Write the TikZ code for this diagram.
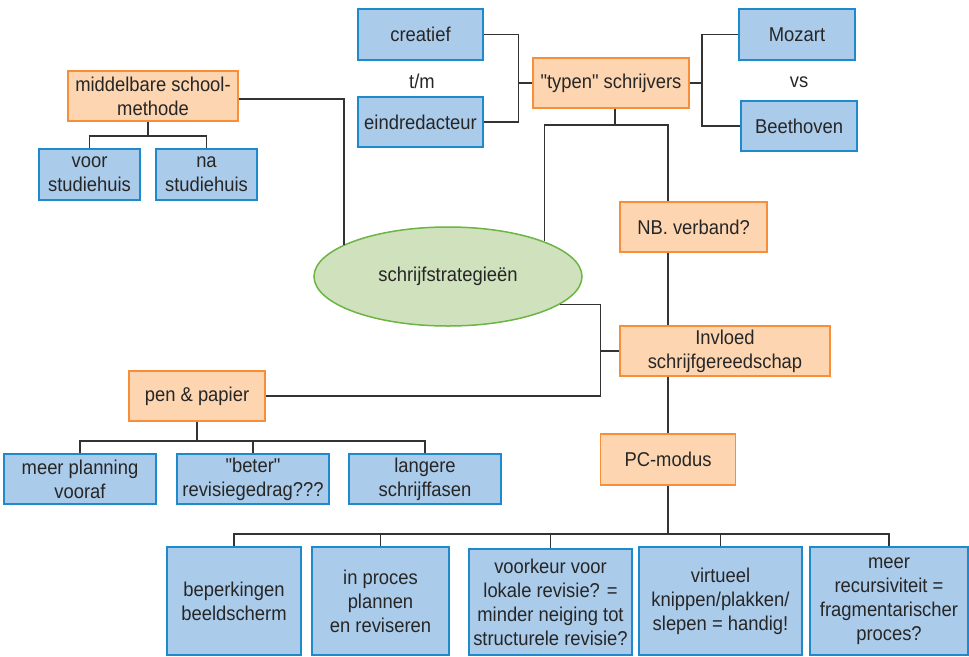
\documentclass[tikz,border=0pt]{standalone}
\usepackage{fontspec}
\setmainfont{Liberation Sans}[FakeStretch=0.92, Ligatures=TeXOff]
\usepackage{tikz}
\usetikzlibrary{shapes.geometric, positioning}

\definecolor{blauwvul}{HTML}{ABCBEA}
\definecolor{blauwrand}{HTML}{1F8ACB}
\definecolor{oranjevul}{HTML}{FDD5B1}
\definecolor{oranjerand}{HTML}{F78E3A}
\definecolor{groenvul}{HTML}{CFE2BD}
\definecolor{groenrand}{HTML}{6CB443}
\definecolor{tekst}{HTML}{262626}
\definecolor{lijn}{HTML}{333333}

\begin{document}
\begin{tikzpicture}[x=1pt, y=-1pt,
        every node/.style={font=\fontsize{20}{24}\selectfont, text=tekst, align=center, inner sep=0pt},
        blok/.style={draw=blauwrand, fill=blauwvul, line width=1.5pt, minimum height=50pt},
        oranje/.style={draw=oranjerand, fill=oranjevul, line width=1.5pt, minimum height=50pt},
        tak/.style={draw=lijn, line width=1.5pt}]
        \useasboundingbox (0,0) rectangle (969,656);

        % Centre
        \node[ellipse, draw=groenrand, fill=groenvul, line width=1.5pt, minimum width=268pt, minimum height=99pt] (sv) at (448,276.5) {schrijfstrategieën};

        % Middelbare school
        \node[oranje, minimum width=170pt] (mbs) at (153,96) {middelbare school-\\methode};
        \node[blok, minimum width=101pt, minimum height=51pt] (voor) at (89.5,174.5) {voor\\studiehuis};
        \node[blok, minimum width=101pt, minimum height=51pt] (na) at (206.5,174.5) {na\\studiehuis};

        % Typen schrijvers
        \node[oranje, minimum width=156pt] (typen) at (611,83) {"typen" schrijvers};
        \node[blok, minimum width=125pt, minimum height=51pt] (creatief) at (420.5,34.5) {creatief};
        \node (tm) at (422,81) {t/m};
        \node[blok, minimum width=125pt] (eind) at (420.5,122) {eindredacteur};
        \node[blok, minimum width=116pt, minimum height=51pt] (mozart) at (797,34.5) {Mozart};
        \node (vs) at (799,82) {vs};
        \node[blok, minimum width=116pt] (beethoven) at (799,126) {Beethoven};

        % Spine on the right
        \node[oranje, minimum width=147pt] (nb) at (693.5,227) {NB. verband?};
        \node[oranje, minimum width=210pt] (invloed) at (725,351) {Invloed\\schrijfgereedschap};
        \node[oranje, minimum width=135pt, minimum height=51pt] (pc) at (668,459.5) {PC-modus};

        % Pen en papier
        \node[oranje, minimum width=136pt] (pen) at (197,396) {pen \& papier};
        \node[blok, minimum width=152pt] (planning) at (80,479) {meer planning\\vooraf};
        \node[blok, minimum width=152pt] (beter) at (253,479) {"beter"\\revisiegedrag???};
        \node[blok, minimum width=152pt] (langere) at (425,479) {langere\\schrijffasen};

        % PC-modus boxes
        \node[blok, minimum width=134pt, minimum height=108pt] (scherm) at (234,601) {beperkingen\\beeldscherm};
        \node[blok, minimum width=137pt, minimum height=108pt] (proces) at (380.5,601) {in proces\\plannen\\en reviseren};
        \node[blok, minimum width=163pt, minimum height=106pt] (lokaal) at (550.5,602) {voorkeur voor\\lokale revisie? =\\minder neiging tot\\structurele revisie?};
        \node[blok, minimum width=163pt, minimum height=108pt] (knippen) at (720.5,601) {virtueel\\knippen/plakken/\\slepen = handig!};
        \node[blok, minimum width=158pt, minimum height=108pt] (recursief) at (889,601) {meer\\recursiviteit =\\fragmentarischer\\proces?};

        % Connectors
        \draw[tak] ([xshift=-5pt]mbs.south) -- ++(0,14) coordinate (mbssplit);
        \foreach \n in {voor, na}
            \draw[tak] (mbssplit) -| (\n.north);
        \draw[tak] ([yshift=-3pt]mbs.east) -| (sv.163);

        \draw[tak] (creatief.east) -| ([xshift=-14pt]typen.west) |- (eind.east);
        \draw[tak] ([xshift=-14pt]typen.west) -- (typen.west);
        \draw[tak] (mozart.west) -| ([xshift=12pt]typen.east) |- (beethoven.west);
        \draw[tak] (typen.east) -- ([xshift=12pt]typen.east);

        \draw[tak] ([xshift=4pt]typen.south) -- ++(0,16) coordinate (typensplit);
        \draw[tak] (typensplit) -| (sv.20);
        \draw[tak] (typensplit) -| (nb.north -| pc.north);
        \draw[tak] (nb.south -| pc.north) -- (invloed.north -| pc.north);
        \draw[tak] (invloed.south -| pc.north) -- (pc.north);

        \path (invloed.west) ++(-19,0) coordinate (knik);
        \draw[tak] (sv.-14) -| (knik) |- (pen.east);
        \draw[tak] (knik) -- (invloed.west);

        \draw[tak] (pen.south) -- ++(0,19) coordinate (pensplit);
        \foreach \n in {planning, beter, langere}
            \draw[tak] (pensplit) -| (\n.north);

        \draw[tak] (pc.south) -- ++(0,48) coordinate (pcsplit);
        \foreach \n in {scherm, proces, lokaal, knippen, recursief}
            \draw[tak] (pcsplit) -| (\n.north);
    \end{tikzpicture}
\end{document}
